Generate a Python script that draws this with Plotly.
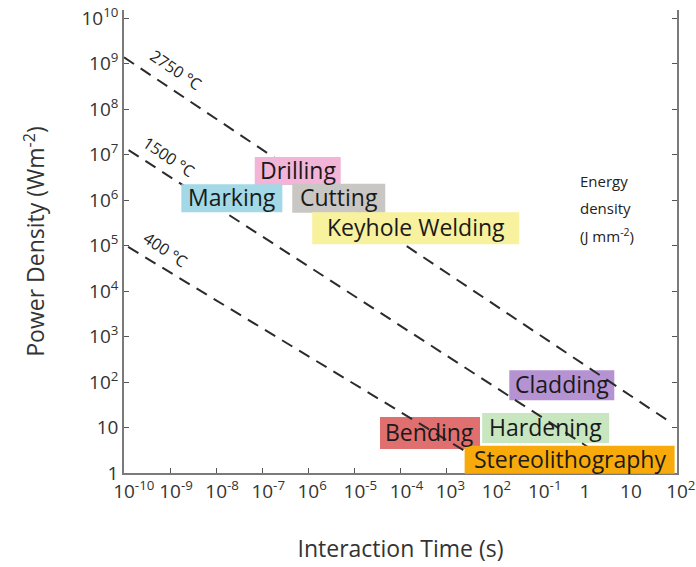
import plotly.graph_objects as go

# ---- axes ----
x_tick_vals = [1e-10, 1e-9, 1e-8, 1e-7, 1e-6, 1e-5, 1e-4, 1e-3, 1e-2, 1e-1, 1, 10, 100]
x_tick_base = ["10", "10", "10", "10", "10", "10", "10", "10", "10", "10", "1", "10", "10"]
x_tick_exp = ["-10", "-9", "-8", "-7", "6", "-5", "-4", "3", "2", "-1", "", "", "2"]
y_tick_vals = [1, 10, 1e2, 1e3, 1e4, 1e5, 1e6, 1e7, 1e8, 1e9, 1e10]
y_tick_text = ["1", "10", "10<sup>2</sup>", "10<sup>3</sup>", "10<sup>4</sup>", "10<sup>5</sup>",
               "10<sup>6</sup>", "10<sup>7</sup>", "10<sup>8</sup>", "10<sup>9</sup>", "10<sup>10</sup>"]


def x_label(base, exp):
    # a transparent copy of the exponent on the left keeps the base centred on its tick
    if not exp:
        return base
    return ('<span style="color:rgba(0,0,0,0)"><sup>%s</sup></span>%s<sup>%s</sup>'
            % (exp, base, exp))


x_tick_text = [x_label(b, e) for b, e in zip(x_tick_base, x_tick_exp)]

# ---- isotherms (log10 of interaction time / power density at the ends) ----
iso_labels = ["2750 °C", "1500 °C", "400 °C"]
iso_logt_start = [-10.0, -9.9, -9.91]
iso_logt_end = [1.85, 0.1, -2.6]
iso_logp_start = [9.14, 7.1, 4.97]
iso_logp_end = [1.12, 0.55, 0.48]
iso_label_logt = [-8.87, -9.02, -9.09]
iso_label_logp = [8.86, 6.95, 4.90]

# ---- processes (label centre in log10 units, box size in px) ----
proc_names = ["Drilling", "Marking", "Cutting", "Keyhole Welding",
              "Cladding", "Bending", "Hardening", "Stereolithography"]
proc_logt = [-6.23, -7.66, -5.34, -3.67, -0.50, -3.36, -0.85, -0.33]
proc_logp = [6.64, 6.04, 6.04, 5.38, 1.93, 0.88, 0.99, 0.29]
proc_colors = ["#f2b5d8", "#a3d9e6", "#c9c7c3", "#f8f29e",
               "#b592d2", "#e07070", "#c8e6c0", "#f7aa0a"]
proc_w = [86, 101, 93, 207, 105, 100, 127, 210]
proc_h = [28, 28, 29, 32, 30, 32, 30, 28]
proc_under_lines = [False, False, False, False, True, True, True, False]

FONT = "Open Sans"
W, H = 696, 567
ML, MR, MT, MB = 124, 19, 10, 94
PW, PH = W - ML - MR, H - MT - MB
XR = [-10, 2]
YR = [0, 10.18]

fig = go.Figure()

for lbl, t0, t1, p0, p1 in zip(iso_labels, iso_logt_start, iso_logt_end,
                               iso_logp_start, iso_logp_end):
    fig.add_trace(go.Scatter(
        x=[10 ** t0, 10 ** t1], y=[10 ** p0, 10 ** p1], mode="lines",
        line=dict(color="#2b2b2b", width=2, dash="12px,8px"),
        name=lbl, showlegend=False, hoverinfo="skip"))

annotations = []
shapes = []
for lbl, lt, lp in zip(iso_labels, iso_label_logt, iso_label_logp):
    annotations.append(dict(x=lt, y=lp, xref="x", yref="y", text=lbl, showarrow=False,
                            textangle=34, font=dict(family=FONT, size=16, color="#222")))

for name, lt, lp, col, w, h, under in zip(proc_names, proc_logt, proc_logp, proc_colors,
                                          proc_w, proc_h, proc_under_lines):
    cx = (lt - XR[0]) / (XR[1] - XR[0])
    cy = (lp - YR[0]) / (YR[1] - YR[0])
    shapes.append(dict(type="rect", xref="paper", yref="paper",
                       layer="below" if under else "above",
                       x0=cx - w / 2 / PW, x1=cx + w / 2 / PW,
                       y0=cy - h / 2 / PH, y1=cy + h / 2 / PH,
                       fillcolor=col, line=dict(width=0)))
    annotations.append(dict(x=lt, y=lp, xref="x", yref="y", text=name, showarrow=False,
                            yshift=1, font=dict(family=FONT, size=23, color="#1a1a1a")))

energy_lines = ["Energy", "density", "(J mm<sup>-2</sup>)"]
energy_logp = [6.43, 5.82, 5.22]
for txt, lp in zip(energy_lines, energy_logp):
    annotations.append(dict(x=-0.15, y=lp, xref="x", yref="y", text=txt, showarrow=False,
                            xanchor="left", font=dict(family=FONT, size=15, color="#222")))

axis_common = dict(showline=True, linecolor="#7a7a7a", linewidth=1.5, ticks="inside",
                   ticklen=5, tickcolor="#555", tickwidth=1.2, showgrid=False, zeroline=False,
                   tickangle=0, automargin=False,
                   tickfont=dict(family=FONT, size=19, color="#333"))

fig.update_xaxes(type="log", range=XR, tickvals=x_tick_vals, ticktext=x_tick_text,
                 title=dict(text="Interaction Time (s)", font=dict(family=FONT, size=23, color="#333"),
                            standoff=38),
                 **axis_common)
fig.update_yaxes(type="log", range=YR, tickvals=y_tick_vals, ticktext=y_tick_text, mirror="ticks",
                 title=dict(text="Power Density (Wm<sup>-2</sup>)",
                            font=dict(family=FONT, size=23, color="#333"), standoff=30),
                 **axis_common)

fig.update_layout(width=W, height=H, margin=dict(l=ML, r=MR, t=MT, b=MB, autoexpand=False),
                  paper_bgcolor="white", plot_bgcolor="white",
                  annotations=annotations, shapes=shapes, showlegend=False)

fig.write_html("out.html")
